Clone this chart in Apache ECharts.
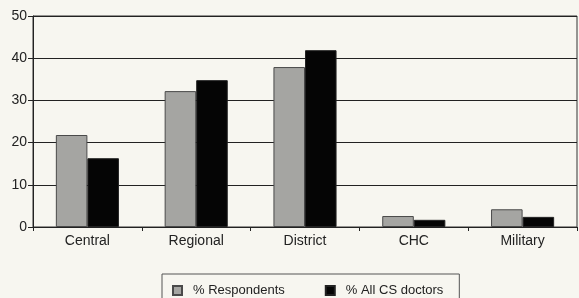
<!DOCTYPE html>
<html>
<head>
<meta charset="utf-8">
<script src="https://cdn.jsdelivr.net/npm/echarts@6/dist/echarts.min.js"></script>
<style>
html, body { margin: 0; padding: 0; background: #f7f6f0; }
#chart { width: 579px; height: 298px; }
</style>
</head>
<body>
<div id="chart"></div>
<script>
// categories and values
var categories = ['Central', 'Regional', 'District', 'CHC', 'Military'];
var respondents = [21.8, 32.2, 37.9, 2.6, 4.2];
var allDoctors = [16.3, 34.8, 41.9, 1.7, 2.4];

var chart = echarts.init(document.getElementById('chart'));
var font = 'Liberation Sans, Arial, sans-serif';

var option = {
    backgroundColor: '#f7f6f0',
    animation: false,
    grid: {
        left: 33, right: 2, top: 16, bottom: 71,
        show: true, borderColor: '#333', borderWidth: 1
    },
    legend: {
        top: 274, left: 162,
        icon: 'rect',
        itemWidth: 9, itemHeight: 9, itemGap: 40,
        padding: [10, 16, 12, 10],
        borderColor: '#555', borderWidth: 1,
        textStyle: { fontFamily: font, fontSize: 13, color: '#222', padding: [0, 0, 0, 6] },
        data: ['% Respondents', '% All CS doctors']
    },
    xAxis: {
        type: 'category',
        data: categories,
        axisLine: { lineStyle: { color: '#222', width: 1 } },
        axisTick: { show: true, alignWithLabel: false, length: 4, lineStyle: { color: '#222' } },
        axisLabel: { fontFamily: font, fontSize: 14, color: '#222', margin: 7 }
    },
    yAxis: {
        type: 'value',
        min: 0, max: 50, interval: 10,
        axisLine: { show: true, lineStyle: { color: '#222', width: 1 } },
        axisTick: { show: true, length: 5, lineStyle: { color: '#222' } },
        axisLabel: { fontFamily: font, fontSize: 14, color: '#222', margin: 6 },
        splitLine: { lineStyle: { color: '#222', width: 1 } }
    },
    series: [
        {
            name: '% Respondents',
            type: 'bar',
            data: respondents,
            barGap: '0%',
            barCategoryGap: '42%',
            itemStyle: { color: '#a5a5a2', borderColor: '#4a4a4a', borderWidth: 1 }
        },
        {
            name: '% All CS doctors',
            type: 'bar',
            data: allDoctors,
            itemStyle: { color: '#050505', borderColor: '#222', borderWidth: 1 }
        }
    ]
};

chart.setOption(option);
</script>
</body>
</html>
